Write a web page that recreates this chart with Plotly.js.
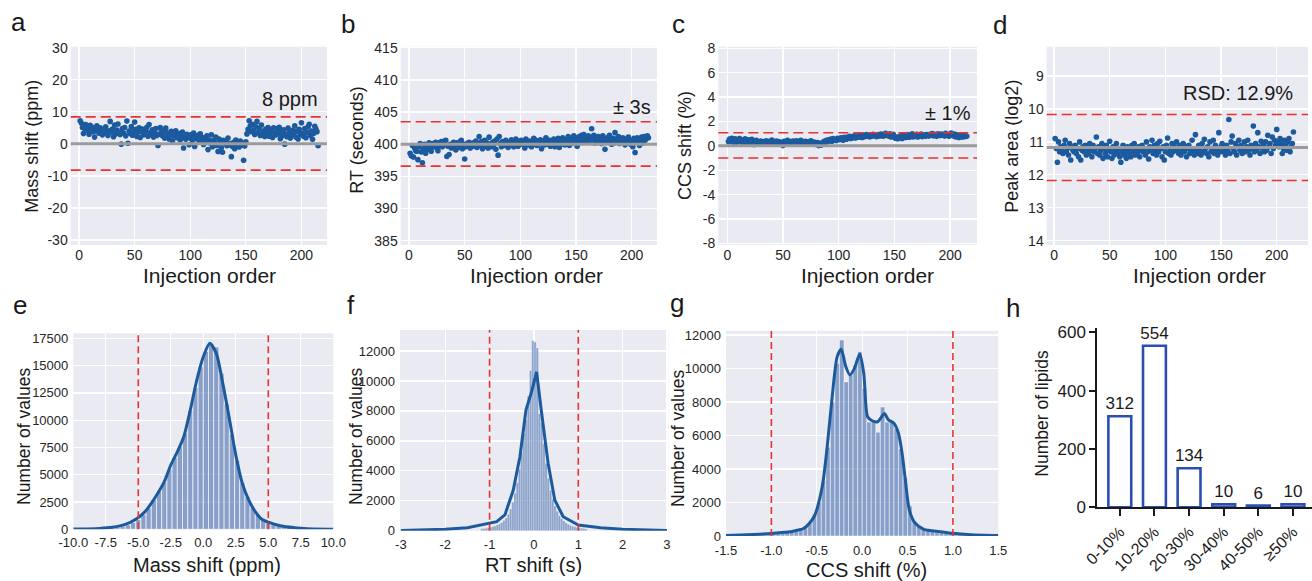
<!DOCTYPE html>
<html><head><meta charset="utf-8">
<script src="https://cdn.plot.ly/plotly-3.0.1.min.js"></script>
<style>html,body{margin:0;padding:0;background:#fff}#chart{width:1312px;height:581px}</style>
</head><body><div id="chart"></div>
<script>
// ---------- data ----------
const massShift = [
7.2,6.5,5.1,3.2,4.8,6.0,5.5,4.2,3.0,5.8,
4.5,5.2,3.8,2.1,4.9,5.6,4.0,3.3,5.0,4.4,
2.8,3.9,4.7,5.3,3.5,2.6,4.1,7.0,3.7,4.6,
2.2,5.9,3.1,4.3,6.2,3.6,2.9,-0.1,4.8,3.4,
5.1,2.5,7.1,0.2,4.0,3.2,5.4,2.7,3.8,6.8,
4.5,2.3,3.6,5.0,2.0,3.9,4.6,2.8,3.3,4.1,
5.2,2.4,6.0,3.5,2.9,4.4,2.1,3.7,4.8,2.6,
-0.5,3.0,5.1,4.2,2.5,3.6,1.8,4.9,2.2,3.4,
1.5,2.8,3.9,1.0,2.7,3.5,4.1,1.9,2.4,3.2,
1.2,2.6,3.7,-1.3,2.0,1.4,3.0,2.3,-0.3,1.8,
2.9,1.1,3.4,-0.8,2.2,1.6,2.7,0.9,3.1,1.3,
2.0,-0.2,1.7,0.5,2.5,-1.8,1.2,0.3,2.8,-0.9,
1.0,0.4,2.1,-0.5,-2.4,1.5,0.8,-1.2,-2.6,1.1,
0.2,0.6,-0.6,1.8,-0.3,0.1,-4.0,-0.8,0.5,-1.5,
1.2,-0.2,0.4,-1.0,0.9,-0.4,0.2,-5.1,-0.7,0.6,
3.1,4.5,7.2,5.6,3.8,6.1,4.2,2.9,5.3,7.0,
3.5,4.8,2.6,5.9,3.2,4.0,2.3,4.6,3.7,5.1,
2.4,3.6,4.3,2.0,5.0,3.3,2.8,4.7,3.1,5.2,
1.6,3.8,2.5,4.4,-0.1,3.0,2.2,4.9,3.5,1.8,
2.7,4.2,3.4,5.6,2.1,3.9,1.5,4.5,2.9,6.6,
3.3,2.4,4.8,1.9,3.6,5.3,6.1,2.6,4.0,1.4,
3.2,5.5,4.6,3.8,-0.6];
const rtSeconds = [
398.6,398.2,399.8,398.0,399.4,399.0,398.9,397.6,399.6,400.1,
398.8,397.1,399.3,400.0,398.6,399.7,399.2,400.2,399.5,398.9,
400.1,399.6,399.9,400.3,399.4,399.0,400.2,399.8,400.4,399.6,
399.9,400.5,400.6,398.1,399.7,398.4,400.0,399.4,399.8,400.3,
399.6,399.1,400.2,399.8,399.5,400.4,400.6,399.3,400.0,397.7,
399.6,400.1,399.8,400.3,399.4,400.0,399.7,400.2,399.9,400.5,
399.5,400.1,401.2,399.8,400.4,399.3,400.0,400.6,399.7,400.2,
399.4,401.1,400.0,399.6,400.3,399.9,400.5,399.2,400.8,398.3,
401.2,400.1,399.6,400.4,400.0,399.8,400.6,400.2,399.5,400.3,
400.0,400.7,400.4,399.6,400.2,400.8,400.1,399.7,400.5,400.3,
400.6,400.0,400.4,399.4,400.8,400.2,399.9,400.5,400.1,399.6,
400.3,400.9,400.0,400.6,399.8,400.4,400.1,400.7,399.3,400.2,
400.5,399.9,401.0,400.3,400.0,400.6,399.7,400.4,400.2,400.8,
399.6,400.1,400.5,400.9,399.5,400.3,400.0,401.0,400.4,399.9,
400.7,400.2,401.2,399.8,400.5,400.1,400.9,401.3,400.3,401.0,
399.7,400.6,401.2,400.4,401.4,400.9,401.5,400.3,401.1,400.7,
401.3,400.5,401.0,402.4,400.8,401.4,400.2,401.1,400.6,401.2,
400.4,400.9,400.1,401.3,400.7,399.2,400.5,401.0,400.3,401.4,
400.6,400.0,400.9,400.2,401.8,400.8,400.4,401.2,400.1,400.7,
400.3,401.0,400.5,399.9,400.8,400.2,401.1,400.6,400.0,400.4,
399.6,400.9,398.7,400.3,401.0,400.5,399.8,400.7,401.1,400.2,
401.2,400.6,400.9,401.3,401.0];
const ccsShift = [
0.35,0.55,0.40,0.62,0.30,0.48,0.58,0.25,0.52,0.44,
0.60,0.33,0.50,0.28,0.46,0.57,0.38,0.22,0.49,0.41,
0.31,0.54,0.26,0.12,0.36,0.45,0.20,0.33,0.15,0.40,
0.27,0.18,0.35,0.24,0.42,0.30,0.16,0.38,0.25,0.48,
0.33,0.20,0.28,0.40,0.22,0.35,0.14,0.30,0.26,0.02,
0.38,0.21,0.32,0.45,0.24,0.18,0.36,0.28,0.40,0.22,
0.30,0.42,0.19,0.35,0.27,0.46,0.23,0.31,0.20,0.38,
0.26,0.33,0.18,0.29,0.41,0.24,0.15,0.32,0.22,0.12,
0.28,0.02,0.20,0.05,0.15,0.30,0.38,0.25,0.45,0.35,
0.50,0.42,0.55,0.38,0.60,0.48,0.52,0.44,0.62,0.55,
0.50,0.66,0.58,0.45,0.70,0.62,0.55,0.72,0.64,0.78,
0.60,0.74,0.68,0.82,0.65,0.76,0.70,0.85,0.72,0.80,
0.68,0.88,0.75,0.82,0.92,0.78,0.85,0.74,0.90,0.80,
0.95,0.82,0.88,0.76,0.92,0.84,0.80,0.96,0.86,0.78,
0.90,1.02,0.84,0.93,0.80,0.98,0.72,0.86,0.94,0.76,
0.62,0.70,0.58,0.75,0.66,0.82,0.60,0.72,0.88,0.68,
0.78,0.92,0.70,0.84,0.76,0.98,0.74,0.86,0.80,0.94,
0.72,0.88,0.82,0.96,0.76,0.90,0.84,0.78,0.92,0.86,
0.80,0.95,0.88,1.00,0.82,0.94,0.86,0.78,0.98,0.90,
0.84,0.96,0.88,0.92,0.80,1.02,0.86,0.90,0.78,0.94,
1.05,0.88,0.82,0.96,0.74,0.90,0.84,0.68,0.86,0.80,
0.72,0.88,0.76,0.82,0.78];
const peakArea = [
10.9,11.2,11.62,11.0,11.3,11.15,11.25,11.35,11.1,10.95,
11.3,11.2,11.4,11.05,11.55,11.15,11.25,11.3,11.1,11.35,
11.2,11.45,11.0,11.55,11.25,11.15,11.3,11.1,11.4,11.2,
11.35,11.05,11.25,11.45,11.1,11.3,11.2,10.85,11.35,11.15,
11.4,11.25,11.05,11.5,11.2,11.35,11.1,11.45,11.25,10.98,
11.3,11.5,11.15,11.4,11.25,11.05,11.35,11.2,11.45,11.62,
11.3,11.1,11.4,11.25,11.5,11.15,11.35,11.2,11.45,11.1,
11.3,11.05,11.4,11.2,11.35,11.15,11.45,11.25,11.1,11.3,
11.2,11.4,11.0,11.3,11.52,11.15,11.25,10.95,11.35,11.1,
11.25,11.4,11.05,11.3,10.98,11.2,11.45,11.15,11.55,11.3,
11.1,10.88,11.35,11.2,11.4,11.05,11.3,11.15,11.25,11.0,
11.2,11.35,11.1,11.4,11.25,11.05,11.3,11.15,11.45,11.2,
11.1,11.35,11.25,10.95,11.3,11.4,10.78,11.2,11.35,11.1,
11.25,11.4,11.05,11.3,10.92,11.2,11.35,11.15,11.45,11.0,
11.3,11.2,10.95,11.35,11.1,11.25,11.4,10.72,11.3,11.15,
11.05,11.3,11.2,11.4,11.1,11.25,10.32,11.35,11.0,10.82,
11.2,11.3,11.05,11.4,11.15,10.95,11.25,11.1,11.35,11.2,
11.0,11.3,11.15,10.95,11.25,11.4,11.1,11.2,10.52,11.3,
11.05,11.25,10.72,11.15,11.35,10.98,11.2,11.1,11.3,11.0,
11.25,10.8,11.15,11.05,11.35,10.85,11.2,10.95,11.1,10.62,
11.0,11.15,10.9,11.05,11.35,11.2,10.95,11.1,11.25,11.0,
10.9,11.3,11.15,11.05,10.7];

// reference / threshold lines
const massLines = {center: 0, limits: [8.4, -8.2]};
const rtLines = {center: 400, limits: [403.5, 396.6]};
const ccsLines = {center: 0, limits: [1.08, -1.0]};
const areaLines = {center: 11.17, limits: [10.17, 12.17]};

// histograms (counts per bin) and density curves
const massBins = {start: -10, width: 0.4};
const massCounts = [10,15,20,30,45,70,100,140,200,290,420,620,900,1350,1950,2700,3500,4300,5500,6600,
  7600,8800,10900,13000,14900,16300,17000,16700,14300,11500,8700,6300,4300,3000,2000,1350,900,650,470,340,
  240,170,120,80,55,40,28,20,14,10];
const massKdeX = [-10,-8,-7,-6,-5.1,-4.5,-4,-3.5,-3,-2.5,-2,-1.5,-1,-0.5,0,0.5,1,1.5,2,2.5,3,3.5,4,4.5,5,6,7,8,10];
const massKdeY = [20,80,180,450,1000,1600,2380,3300,4360,5890,7100,8480,10930,13680,15810,17040,16120,13370,10170,6800,4210,2680,1610,915,650,300,150,60,15];
const massMarks = [-5, 5];

const rtBins = {start: -1.2, width: 0.05};
const rtCounts = [130,150,170,200,230,270,320,380,450,540,680,850,1100,1450,1900,2500,3200,4100,5200,6500,
  7400,9000,10700,12700,12600,12200,7800,7200,5800,4500,3500,2700,2100,1650,1300,1000,800,640,520,430,
  360,300,260,220,190,160,140,120];
const rtKdeX = [-3,-2,-1.5,-1.02,-0.84,-0.655,-0.467,-0.316,-0.18,-0.052,0.06,0.174,0.32,0.47,0.66,1.0,1.5,2,3];
const rtKdeY = [20,100,200,490,600,1050,2700,4940,8060,9290,10600,7840,4500,2050,935,380,200,100,20];
const rtMarks = [-1, 1];

const ccsBins = {start: -1.5, width: 0.05};
const ccsCounts = [20,25,30,40,50,60,75,90,110,130,150,170,200,230,280,350,450,600,850,1300,
  2000,3300,5300,8000,10300,11700,9200,9600,10200,11000,8800,6800,6900,6200,7700,6800,6800,6400,5200,3500,
  1800,900,550,400,330,280,240,200,170,140,110,90,70,55,45,35,28,22,18,15];
const ccsKdeX = [-1.5,-1.2,-1.0,-0.85,-0.79,-0.64,-0.53,-0.44,-0.385,-0.33,-0.275,-0.23,-0.18,-0.135,-0.085,-0.026,0.018,0.06,0.11,0.17,0.21,0.245,0.29,0.35,0.40,0.44,0.476,0.52,0.585,0.68,0.86,1.0,1.2,1.5];
const ccsKdeY = [30,90,150,220,260,460,1150,2940,5330,8320,10700,11150,10110,9610,10010,10870,9710,7120,6880,6820,7080,7320,6930,6730,6130,4940,3340,1550,760,400,260,160,80,30];
const ccsMarks = [-1, 1];

const rsdCategories = ['0-10%','10-20%','20-30%','30-40%','40-50%','\u226550%'];
const rsdCounts = [312,554,134,10,6,10];

// tick values
const orderTicks = [0, 50, 100, 150, 200];
const massTicks = [-30, -20, -10, 0, 10, 20, 30];
const rtTicks = [385, 390, 395, 400, 405, 410, 415];
const ccsTicks = [-8, -6, -4, -2, 0, 2, 4, 6, 8];
const areaTicks = [9, 10, 11, 12, 13, 14];
const massHistTicks = [-10, -7.5, -5, -2.5, 0, 2.5, 5, 7.5, 10];
const rtHistTicks = [-3, -2, -1, 0, 1, 2, 3];
const ccsHistTicks = [-1.5, -1, -0.5, 0, 0.5, 1, 1.5];
const countTicks12 = [0, 2000, 4000, 6000, 8000, 10000, 12000];
const countTicks17 = [0, 2500, 5000, 7500, 10000, 12500, 15000, 17500];
const lipidTicks = [0, 200, 400, 600];

// ---------- drawing ----------
const W = 1312, H = 581;
const dx = (l, r) => [l / W, r / W];
const dy = (t, b) => [1 - b / H, 1 - t / H];
const BG = '#EAEAF2', DOT = '#1B5A9E', LINE = '#1D5A9C', RED = '#E8322E', GRAY = '#9B9B9B';
const HISTC = 'rgba(76,114,176,0.62)';
const FONT = 'Liberation Sans, Arial, Helvetica, sans-serif';
const tickTop = {size: 14, color: '#262626'};
const tickBot = {size: 13, color: '#262626'};
const lab = (vals, d) => vals.map(v => v.toFixed(d));

const order = massShift.map((_, i) => i + 1);
const centers = (bins, n) => Array.from({length: n}, (_, i) => bins.start + bins.width * (i + 0.5));

function sb(extra) {
  return Object.assign({showgrid: true, gridcolor: '#FFFFFF', gridwidth: 1.3, zeroline: false,
    showline: false, ticks: '', fixedrange: true}, extra);
}

const traces = [];
const scat = (y, xa, ya) => traces.push({type: 'scatter', mode: 'markers', x: order, y: y, xaxis: xa, yaxis: ya,
  marker: {color: DOT, size: 5.6}, hoverinfo: 'skip'});
scat(massShift, 'x', 'y');
scat(rtSeconds, 'x2', 'y2');
scat(ccsShift, 'x3', 'y3');
scat(peakArea, 'x4', 'y4');

const hist = (bins, counts, kx, ky, xa, ya, lw, shape) => {
  traces.push({type: 'bar', x: centers(bins, counts.length), y: counts, width: bins.width, xaxis: xa, yaxis: ya,
    marker: {color: HISTC, line: {color: 'rgba(255,255,255,0.8)', width: lw}}, hoverinfo: 'skip'});
  traces.push({type: 'scatter', mode: 'lines', x: kx, y: ky, xaxis: xa, yaxis: ya,
    line: {color: LINE, width: 3, shape: shape, smoothing: 0.7}, hoverinfo: 'skip'});
};
hist(massBins, massCounts, massKdeX, massKdeY, 'x5', 'y5', 0.8, 'spline');
hist(rtBins, rtCounts, rtKdeX, rtKdeY, 'x6', 'y6', 0.3, 'linear');
hist(ccsBins, ccsCounts, ccsKdeX, ccsKdeY, 'x7', 'y7', 0.6, 'spline');

traces.push({type: 'bar', x: rsdCategories, y: rsdCounts, xaxis: 'x8', yaxis: 'y8', width: 0.66,
  marker: {color: '#FFFFFF', line: {color: '#2B4EB5', width: 2.6}},
  text: rsdCounts.map(String), textposition: 'outside', cliponaxis: false, constraintext: 'none',
  textfont: {size: 17, color: '#1a1a1a', family: FONT}, hoverinfo: 'skip'});

const topY = dy(46.7, 245);
const layout = {
  width: W, height: H, margin: {l: 0, r: 0, t: 0, b: 0}, paper_bgcolor: '#FFFFFF', plot_bgcolor: '#FFFFFF',
  showlegend: false, font: {family: FONT, color: '#1a1a1a'}, barmode: 'overlay',
  xaxis: sb({domain: dx(70.7, 327), range: [-7.5, 223], anchor: 'y', tickvals: orderTicks, tickfont: tickTop}),
  yaxis: sb({domain: topY, range: [-31.56, 30.31], anchor: 'x', tickvals: massTicks, ticktext: lab(massTicks, 0), tickfont: tickTop, ticklabelstandoff: 2}),
  xaxis2: sb({domain: dx(400.7, 657), range: [-7.45, 222.7], anchor: 'y2', tickvals: orderTicks, tickfont: tickTop}),
  yaxis2: sb({domain: topY, range: [384.33, 415.16], anchor: 'x2', tickvals: rtTicks, tickfont: tickTop, ticklabelstandoff: 2}),
  xaxis3: sb({domain: dx(718.3, 977), range: [-8.1, 224.2], anchor: 'y3', tickvals: orderTicks, tickfont: tickTop}),
  yaxis3: sb({domain: topY, range: [-8.13, 8.13], anchor: 'x3', tickvals: ccsTicks, ticktext: lab(ccsTicks, 0), tickfont: tickTop, ticklabelstandoff: 2}),
  xaxis4: sb({domain: dx(1046.7, 1308), range: [-6.6, 228.1], anchor: 'y4', tickvals: orderTicks, tickfont: tickTop}),
  yaxis4: sb({domain: topY, range: [14.13, 8.11], anchor: 'x4', tickvals: areaTicks, tickfont: tickTop, ticklabelstandoff: 2}),
  xaxis5: sb({domain: dx(73.3, 333.3), range: [-10, 10], anchor: 'y5', tickvals: massHistTicks, ticktext: lab(massHistTicks, 1), tickfont: tickBot, ticklabelstandoff: 4}),
  yaxis5: sb({domain: dy(333.3, 529.3), range: [0, 17958], anchor: 'x5', tickvals: countTicks17, ticktext: lab(countTicks17, 0), tickfont: tickBot, ticklabelstandoff: 4}),
  xaxis6: sb({domain: dx(400, 668.3), range: [-3.02, 3.03], anchor: 'y6', tickvals: rtHistTicks, ticktext: lab(rtHistTicks, 0), tickfont: tickBot, ticklabelstandoff: 4}),
  yaxis6: sb({domain: dy(330, 530.7), range: [0, 13402], anchor: 'x6', tickvals: countTicks12, ticktext: lab(countTicks12, 0), tickfont: tickBot, ticklabelstandoff: 4}),
  xaxis7: sb({domain: dx(726, 998.3), range: [-1.5, 1.5], anchor: 'y7', tickvals: ccsHistTicks, ticktext: lab(ccsHistTicks, 1), tickfont: tickBot, ticklabelstandoff: 5}),
  yaxis7: sb({domain: dy(330.7, 536), range: [0, 12257], anchor: 'x7', tickvals: countTicks12, ticktext: lab(countTicks12, 0), tickfont: tickBot, ticklabelstandoff: 4}),
  xaxis8: {domain: dx(1097.3, 1312), type: 'category', range: [-0.65, 5.55], anchor: 'y8', showgrid: false, zeroline: false,
    showline: true, linecolor: '#1a1a1a', linewidth: 2, ticks: 'outside', ticklen: 7, tickwidth: 2, tickcolor: '#1a1a1a',
    tickangle: -45, tickfont: {size: 16, color: '#1a1a1a'}, fixedrange: true},
  yaxis8: {domain: dy(328.3, 507.3), range: [0, 613.7], anchor: 'x8', showgrid: false, zeroline: false,
    showline: true, linecolor: '#1a1a1a', linewidth: 2, ticks: 'outside', ticklen: 6, tickwidth: 2, tickcolor: '#1a1a1a',
    tickvals: lipidTicks, tickfont: {size: 17, color: '#1a1a1a'}, fixedrange: true},
  shapes: [], annotations: []
};

// panel backgrounds
['', '2', '3', '4', '5', '6', '7'].forEach(k => layout.shapes.push({type: 'rect', layer: 'below',
  xref: 'x' + k + ' domain', yref: 'y' + k + ' domain', x0: 0, x1: 1, y0: 0, y1: 1, fillcolor: BG, line: {width: 0}}));

const hLines = (k, spec) => {
  layout.shapes.push({type: 'line', xref: 'x' + k + ' domain', x0: 0, x1: 1, yref: 'y' + k, y0: spec.center, y1: spec.center,
    line: {color: GRAY, width: 3}});
  spec.limits.forEach(v => layout.shapes.push({type: 'line', xref: 'x' + k + ' domain', x0: 0, x1: 1, yref: 'y' + k, y0: v, y1: v,
    line: {color: RED, width: 1.6, dash: '10px,5px'}}));
};
hLines('', massLines); hLines('2', rtLines); hLines('3', ccsLines); hLines('4', areaLines);
const vLines = (k, marks) => marks.forEach(v => layout.shapes.push({type: 'line', xref: 'x' + k, x0: v, x1: v,
  yref: 'y' + k + ' domain', y0: 0, y1: 1, line: {color: RED, width: 1.6, dash: '7px,4px'}}));
vLines('5', massMarks); vLines('6', rtMarks); vLines('7', ccsMarks);

const ann = (text, x, y, size, opts) => layout.annotations.push(Object.assign({text: text, x: x / W, y: 1 - y / H,
  xref: 'paper', yref: 'paper', showarrow: false, xanchor: 'center', yanchor: 'middle',
  font: {size: size, color: '#1a1a1a', family: FONT}}, opts || {}));

// panel letters
ann('a', 18, 22, 26); ann('b', 348, 24, 26); ann('c', 678, 24, 26); ann('d', 1000, 25, 26);
ann('e', 20, 305, 26); ann('f', 351, 305, 26); ann('g', 677, 303, 26); ann('h', 1013, 308, 26);

// top-row titles
ann('Injection order', 209, 275, 21); ann('Injection order', 536.7, 275, 21);
ann('Injection order', 867.5, 275, 21); ann('Injection order', 1199, 275, 21);
ann('Mass shift (ppm)', 31.7, 146, 18, {textangle: -90});
ann('RT (seconds)', 356.7, 140, 18, {textangle: -90});
ann('CCS shift (%)', 685, 146, 18, {textangle: -90});
ann('Peak area (log2)', 1011.7, 146, 18, {textangle: -90});
// top-row notes
ann('8 ppm', 320, 99, 20, {xanchor: 'right'});
ann('\u00b1 3s', 653, 107, 20, {xanchor: 'right'});
ann('\u00b1 1%', 973, 113, 20, {xanchor: 'right'});
ann('RSD: 12.9%', 1295, 93, 20, {xanchor: 'right'});

// bottom-row titles
ann('Mass shift (ppm)', 206.7, 565, 20); ann('RT shift (s)', 533, 565, 20); ann('CCS shift (%)', 866.7, 570, 20);
ann('Number of values', 24, 437, 17.5, {textangle: -90});
ann('Number of values', 356, 437, 17.5, {textangle: -90});
ann('Number of values', 678, 439, 17.5, {textangle: -90});
ann('Number of lipids', 1041.7, 413, 17.5, {textangle: -90});

Plotly.newPlot('chart', traces, layout, {staticPlot: true, displayModeBar: false});
</script></body></html>
